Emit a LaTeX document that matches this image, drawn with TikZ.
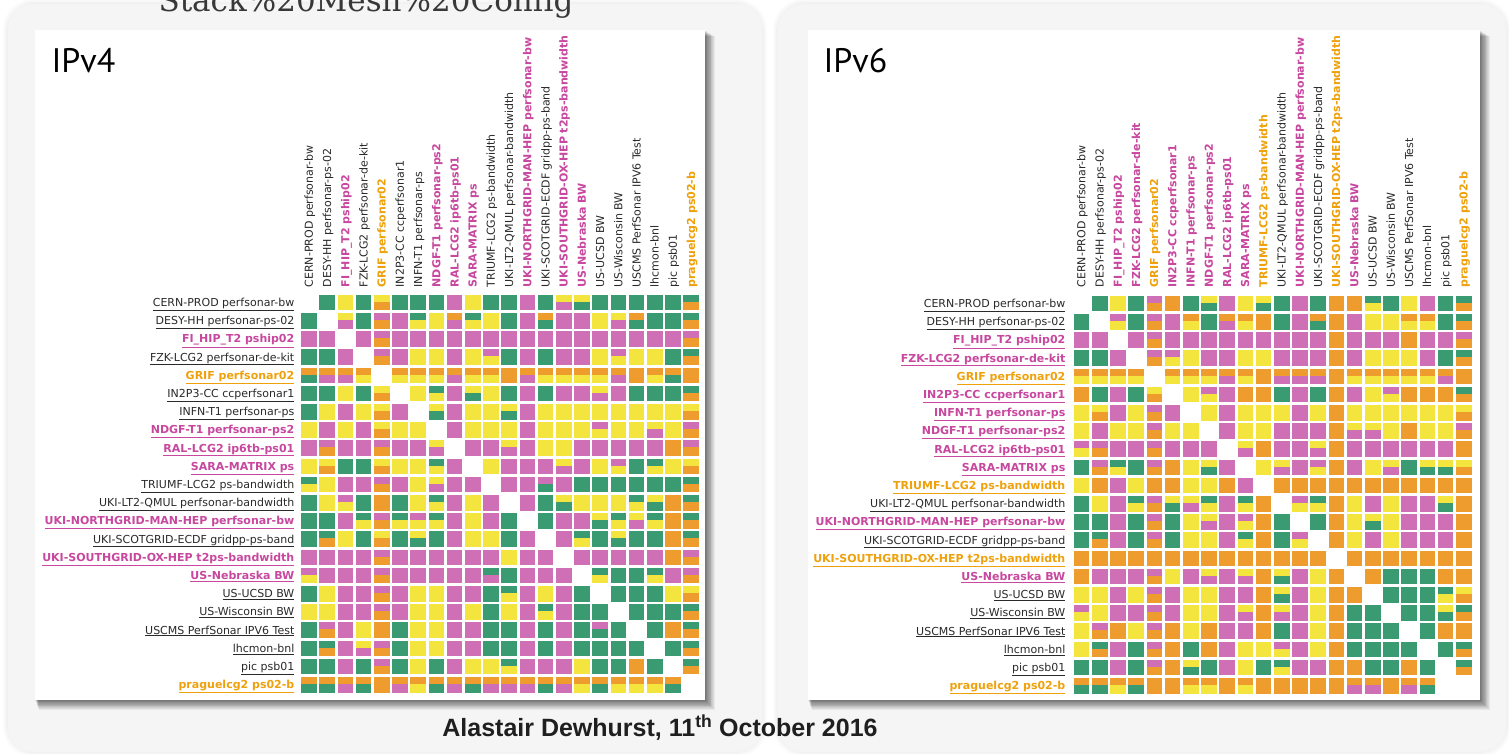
\documentclass[tikz,border=0pt]{standalone}
\usepackage{fontspec}
\setmainfont{Liberation Sans}
\newfontfamily\labfont{DejaVu Sans}
\newfontfamily\ipfont{PT Sans}
\newfontfamily\titlefont{DejaVu Serif}
\definecolor{cG}{HTML}{3A9B72}
\definecolor{cP}{HTML}{CF6FB5}
\definecolor{cY}{HTML}{F3E43E}
\definecolor{cO}{HTML}{EE9C2E}
\definecolor{cW}{HTML}{FFFFFF}
\definecolor{lblack}{HTML}{2A2A2A}
\definecolor{lpink}{HTML}{C8479F}
\definecolor{lorange}{HTML}{EFA10C}
\definecolor{panelbg}{HTML}{F5F5F5}

\tikzset{
  labk/.style={font=\labfont\fontsize{11}{12}\selectfont, text=lblack, inner sep=0.5pt},
  labp/.style={font=\labfont\fontsize{11}{12}\selectfont\bfseries, text=lpink, inner sep=0.5pt},
  labo/.style={font=\labfont\fontsize{11}{12}\selectfont\bfseries, text=lorange, inner sep=0.5pt},
  card/.style={fill=white},
  panel/.style={fill=panelbg, rounded corners=26pt},
}

\def\mkcell#1#2\relax{%
  \fill[c#1] (\cx-7.8,\cy-7.8) rectangle (\cx+7.8,\cy-0.8);
  \fill[c#2] (\cx-7.8,\cy-0.8) rectangle (\cx+7.8,\cy+7.8);
}
\newcommand\drawmatrix[3]{%
  \foreach \rw [count=\ri] in {#3} {
    \foreach \cc [count=\ci] in \rw {
      \pgfmathsetmacro\cx{#1+(\ci-1)*18.2}
      \pgfmathsetmacro\cy{#2+(\ri-1)*18.2}
      \expandafter\mkcell\cc\relax
    }
  }
}
% #1 right x of row labels, #2 y of first row, #3 x of first column, #4 bottom y of column labels, #5 prefix, #6 list
\newcommand\drawlabels[6]{%
  \foreach \t/\k [count=\ri] in {#6} {
    \pgfmathsetmacro\ly{#2+(\ri-1)*18.2+3.9}
    \pgfmathsetmacro\lx{#3+(\ri-1)*18.2+3.9}
    \node[lab\k, anchor=base east] (#5-r\ri) at (#1,\ly) {\underline{\t}};
    \node[lab\k, rotate=90, anchor=base west] (#5-c\ri) at (\lx,#4) {\t};
  }
}

\begin{document}
\begin{tikzpicture}[x=1pt,y=-1pt]
\useasboundingbox (0,0) rectangle (1509,753);
% outer panels (soft edges)
\foreach \k in {0,...,5} {
  \fill[black, opacity=0.012, rounded corners=30pt] (8-\k,4-\k) rectangle (762+\k,752+\k);
  \fill[black, opacity=0.012, rounded corners=30pt] (778-\k,4-\k) rectangle (1506+\k,752+\k);
}
\fill[panel] (8,4) rectangle (762,752);
\fill[panel] (778,4) rectangle (1506,752);
% title (cut at top, as in the reference)
\node[font=\titlefont\fontsize{31}{34}\selectfont, text=black!78, anchor=base west] (title) at (155,11) {Stack\%20Mesh\%20Config};
% card shadows
\foreach \k in {1,...,12} {
  \fill[black, opacity=0.055] (35+\k*0.3,30+\k*0.5) rectangle (705+\k*0.8,700+\k*0.8);
  \fill[black, opacity=0.055] (808+\k*0.3,30+\k*0.5) rectangle (1480+\k*0.8,700+\k*0.8);
}
\fill[card] (35,30) rectangle (705,700);
\fill[card] (808,30) rectangle (1480,700);
\node[font=\ipfont\fontsize{34}{36}\selectfont, anchor=base west] (ip4) at (48,72) {IPv4};
\node[font=\ipfont\fontsize{34}{36}\selectfont, anchor=base west] (ip6) at (820,72) {IPv6};

% left matrix
\drawmatrix{309}{302.5}{%
{WW,GG,YY,GG,YO,GG,GG,GG,PP,YY,GG,GG,PP,GG,YP,YG,GG,GG,GG,GG,GG,GO},
{GG,WW,YP,GG,PO,PP,GY,YY,OP,GY,YY,GG,PP,OG,PP,PP,YY,YP,OG,GG,GG,GO},
{PP,PP,WW,PP,PO,PP,PP,PP,PP,PP,PP,PP,PP,PP,PP,PP,PP,PP,PP,PP,PP,PO},
{GG,GG,PP,WW,PO,PP,YY,YY,PP,YY,PY,GG,PP,GG,PP,PP,YY,PY,YY,YY,GG,GO},
{OG,OP,OP,OY,WW,OY,OY,OY,OP,OY,OY,OO,OP,OY,OY,OY,OY,OP,OO,OY,OG,OO},
{GG,GG,YY,GG,YO,WW,YY,GY,PP,YG,YY,GG,PP,GG,PP,PP,YP,PP,GG,GG,GG,GO},
{GG,YY,PP,YY,YO,PP,WW,YG,PP,YY,YY,YG,PP,YY,YY,YY,YY,YY,YY,YY,YY,YO},
{YY,PP,YY,PP,YO,YY,YY,WW,PP,YY,YY,YY,PP,YY,YY,YY,PY,YY,YY,YP,YY,PO},
{PP,PO,PP,PP,PO,PP,PP,YP,WW,PP,PP,YP,PP,YY,YY,PP,PP,PP,PP,PP,OO,PO},
{YY,YO,GG,GG,YO,YY,YY,GY,PP,WW,YY,PP,PP,PP,YP,PP,YY,PY,GG,GY,YY,YO},
{GY,YY,PP,PP,PO,PP,YY,YP,PP,PP,WW,PP,PP,PG,PP,GG,GG,GG,GG,GG,GG,GO},
{GG,YY,PY,GG,OO,GG,YY,GY,PP,YY,PP,WW,PP,GG,YG,YY,YY,YY,GY,YG,OO,GO},
{GG,GG,PP,GY,PO,GY,PY,GY,PP,YY,PP,GG,WW,GG,PP,PP,YG,GY,YP,GY,OO,GO},
{GG,GO,YY,GG,YO,GG,YG,GG,PP,YY,YY,GG,PP,WW,PP,GY,GG,YG,GG,GG,OO,GO},
{PP,PP,PP,PP,PO,PP,PP,PP,PP,PP,PP,YY,PP,PP,WW,PP,PP,PP,PP,PP,OO,PO},
{PY,PP,PP,PP,PO,PP,PP,PP,PP,PP,GP,GG,PP,PP,PP,WW,GY,GG,GG,GY,PP,PO},
{GG,YY,PP,PP,PO,PP,YY,YY,PP,PP,GG,GY,PP,YY,PP,GG,WW,GG,GG,GG,YY,YO},
{YY,YY,PP,PP,PO,PP,YY,YY,PP,YY,GG,YY,PP,GY,PP,GG,GG,WW,GG,GG,GG,GO},
{GG,PO,PP,YY,OO,GG,YY,YY,PP,PP,GG,GG,PP,GG,PP,GG,PG,GG,WW,GG,OO,GO},
{GG,GO,PP,YP,PO,GG,YY,YY,PP,PP,GG,GG,PP,GG,PP,GG,GG,GG,GG,WW,GG,GO},
{GG,GG,PP,GG,PO,GG,YY,GG,PP,YY,YY,GY,PP,PP,PP,YY,GG,GG,OO,GG,WW,GO},
{OG,OG,OP,OG,OO,OP,OY,OG,OP,OG,OP,OP,OP,OG,OP,OY,OG,OY,OY,OY,OG,WW}}

% right matrix
\drawmatrix{1081.5}{303.5}{%
{WW,GG,YY,GG,PO,OO,GG,YG,PP,YY,YG,GG,PP,GG,OO,OO,GY,GG,YY,PP,GG,GO},
{GG,WW,PY,GG,PO,PP,OY,GG,OP,OY,OO,GG,PP,OG,OO,PP,YY,YY,OY,OY,GG,GO},
{PP,PP,WW,PP,PO,PP,PP,PP,PP,PP,PP,PP,PP,PP,OO,PP,PP,PP,OO,PP,PP,PO},
{GG,GG,PP,WW,PO,PY,YY,PP,PP,YY,YY,PP,PP,PP,OO,PP,YY,YY,YY,PP,GG,GO},
{OY,OY,OY,OY,WW,OY,OY,OY,OP,OY,OO,OP,OP,OP,OO,OY,OY,OY,OY,OY,OP,OO},
{OO,GG,PP,GG,YO,WW,YY,PY,PP,OO,OO,GG,PP,GG,OO,PP,YY,PY,OO,OO,OO,GO},
{YY,YO,PP,YY,PO,PP,WW,YY,PP,YY,YY,YY,PP,YY,OO,YY,YY,YY,YY,YY,YY,YO},
{YY,PP,YY,YY,PO,YY,YY,WW,PP,YY,YY,PP,PP,PP,OO,YP,YP,YY,OO,YY,YY,PO},
{PY,PO,PP,PP,PO,PP,PP,PP,WW,YP,OO,PP,PP,YP,OO,PP,PP,PP,PP,PP,PP,OO},
{GG,PO,GY,GG,PO,OO,YY,YG,PP,WW,YY,YP,PP,PY,OO,PP,YY,YP,GG,YG,YG,YO},
{YY,OO,PP,YY,OO,OO,YY,YY,OO,PP,WW,OO,OO,OO,OO,OO,OO,OO,OO,OO,OO,OO},
{GG,YY,PP,GY,PO,YG,YP,GY,PP,GY,OO,WW,PY,GY,OO,YY,PP,YY,PP,PP,YG,OO},
{GG,GG,PP,GG,PO,GG,YY,YP,PP,PY,OO,GG,WW,GG,OO,YY,YG,YY,PP,PP,PP,OO},
{GG,GO,PP,GG,PO,GG,YY,YY,PP,GY,OO,GG,PY,WW,OO,YY,PP,YY,PP,PP,PP,OO},
{OO,OO,OO,OO,OO,OO,OO,OO,OO,OO,OO,OO,OO,OO,WW,OO,OO,OO,OO,OO,OO,OO},
{OO,PP,PP,PP,PO,YY,PP,YP,PP,YP,OO,YG,PP,YY,OO,WW,OO,GG,GG,GG,OO,OO},
{YY,YY,PP,YY,PO,PP,YY,YY,PP,PP,OO,YG,PP,YY,OO,OO,WW,GG,GG,GG,GY,YO},
{PY,YY,PP,PP,PO,PP,YY,YY,PP,YP,OO,YP,PP,YY,OO,GG,GG,WW,GG,GG,YG,GO},
{YY,PO,OO,YY,PO,OO,YY,OO,PP,PP,OO,GG,PP,YY,OO,GG,GG,GG,WW,GG,OO,OO},
{YY,GO,PP,GG,PO,OO,GG,OO,PP,YY,YY,PY,PP,YY,OO,GG,GG,GG,GG,WW,GG,GO},
{GG,GG,PP,GG,PO,OO,YG,GG,PP,YY,GG,GY,PP,PP,OO,OO,GG,GG,OO,GG,WW,GO},
{OG,OG,OY,OG,OO,OO,OY,OY,OO,OY,OO,OO,OO,OO,OO,OP,OP,OO,OP,OG,WW}}

\drawlabels{295}{302.5}{309}{288}{L}{%
CERN-PROD perfsonar-bw/k,DESY-HH perfsonar-ps-02/k,FI\_HIP\_T2 pship02/p,FZK-LCG2 perfsonar-de-kit/k,GRIF perfsonar02/o,IN2P3-CC ccperfsonar1/k,INFN-T1 perfsonar-ps/k,NDGF-T1 perfsonar-ps2/p,RAL-LCG2 ip6tb-ps01/p,SARA-MATRIX ps/p,TRIUMF-LCG2 ps-bandwidth/k,UKI-LT2-QMUL perfsonar-bandwidth/k,UKI-NORTHGRID-MAN-HEP perfsonar-bw/p,UKI-SCOTGRID-ECDF gridpp-ps-band/k,UKI-SOUTHGRID-OX-HEP t2ps-bandwidth/p,US-Nebraska BW/p,US-UCSD BW/k,US-Wisconsin BW/k,USCMS PerfSonar IPV6 Test/k,lhcmon-bnl/k,pic psb01/k,praguelcg2 ps02-b/o}

\drawlabels{1066}{303.5}{1081.5}{288}{R}{%
CERN-PROD perfsonar-bw/k,DESY-HH perfsonar-ps-02/k,FI\_HIP\_T2 pship02/p,FZK-LCG2 perfsonar-de-kit/p,GRIF perfsonar02/o,IN2P3-CC ccperfsonar1/p,INFN-T1 perfsonar-ps/p,NDGF-T1 perfsonar-ps2/p,RAL-LCG2 ip6tb-ps01/p,SARA-MATRIX ps/p,TRIUMF-LCG2 ps-bandwidth/o,UKI-LT2-QMUL perfsonar-bandwidth/k,UKI-NORTHGRID-MAN-HEP perfsonar-bw/p,UKI-SCOTGRID-ECDF gridpp-ps-band/k,UKI-SOUTHGRID-OX-HEP t2ps-bandwidth/o,US-Nebraska BW/p,US-UCSD BW/k,US-Wisconsin BW/k,USCMS PerfSonar IPV6 Test/k,lhcmon-bnl/k,pic psb01/k,praguelcg2 ps02-b/o}

\node[font=\bfseries\fontsize{25}{28}\selectfont, text=black!88] (foot) at (660,728) {Alastair Dewhurst, 11\textsuperscript{th} October 2016};
\end{tikzpicture}
\end{document}
